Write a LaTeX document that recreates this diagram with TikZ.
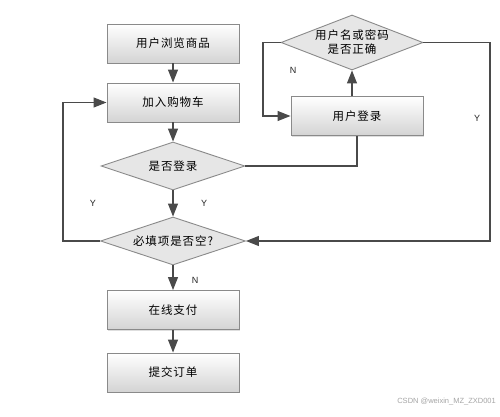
\documentclass[tikz,border=0pt]{standalone}
\usepackage{fontspec}
\setmainfont{Liberation Sans}
\newfontfamily\cjk[LetterSpace=8]{Noto Sans CJK SC}
\usetikzlibrary{shapes.geometric,arrows.meta,shadows}
\definecolor{linec}{HTML}{4A4A4A}
\definecolor{edgec}{HTML}{8A8A8A}
\definecolor{diafill}{HTML}{E6E6E6}
\tikzset{
  procbox/.style={draw=edgec, line width=0.9pt, top color=white, bottom color=black!17,
    minimum width=132pt, minimum height=39pt, inner sep=0pt,
    font=\cjk\fontsize{11.5}{14}\selectfont,
    drop shadow={shadow xshift=1.2pt, shadow yshift=-1.2pt, fill=black!25}},
  decision/.style={diamond, draw=edgec, line width=0.9pt, fill=diafill, inner sep=0pt, aspect=3},
  dtext/.style={font=\cjk\fontsize{11.5}{14}\selectfont, align=center, inner sep=0pt},
  conn/.style={draw=linec, line width=1.2pt},
  arr/.style={conn, -{Triangle[length=13pt,width=10pt]}},
  yn/.style={font=\fontsize{9}{10}\selectfont, text=black!85, inner sep=0pt},
}
\begin{document}
\begin{tikzpicture}[x=1pt,y=-1pt]
\useasboundingbox (0,0) rectangle (500,417);
\fill[white] (0,0) rectangle (500,417);
% boxes
\node[procbox] (b1) at (173,43.5) {用户浏览商品};
\node[procbox] (b2) at (173,102.5) {加入购物车};
\node[procbox] (b3) at (173,310) {在线支付};
\node[procbox] (b4) at (173,372.5) {提交订单};
\node[procbox] (login) at (357,116) {用户登录};
% decisions
\node[decision, minimum width=144pt, minimum height=48pt] (d1) at (173,166) {};
\node[dtext] (t1) at (d1) {是否登录};
\node[decision, minimum width=145pt, minimum height=48pt] (d2) at (173,241) {};
\node[dtext] (t2) at (d2) {必填项是否空?};
\node[decision, minimum width=142pt, minimum height=55pt] (d3) at (352,42.5) {};
\node[dtext] (t3) at (d3) {用户名或密码\\是否正确};
% helper coordinates
\coordinate (cL) at (63,0);
\coordinate (cN) at (263,0);
\coordinate (cR) at (490,0);
% connectors
\draw[arr] (b1) -- (b2);
\draw[arr] (b2) -- (d1);
\draw[conn] (d1.east) -| (login.south);
\draw[arr] (d3.south |- login.north) -- (d3.south);
\draw[arr] (d3.west) -| (cN |- login.west) -- (login.west);
\draw[arr] (d3.east) -| (cR |- d2.east) -- (d2.east);
\draw[arr] (d1) -- (d2);
\draw[arr] (d2.west) -| (cL |- b2.west) -- (b2.west);
\draw[arr] (d2) -- (b3);
\draw[arr] (b3) -- (b4);
% labels
\node[yn] (l1) at (93,203) {Y};
\node[yn] (l2) at (204,203) {Y};
\node[yn] (l3) at (293,70) {N};
\node[yn] (l4) at (477,118) {Y};
\node[yn] (l5) at (195,280) {N};
\node[font=\fontsize{7.5}{9}\selectfont, text=black!35, anchor=east, inner sep=0pt] (wm) at (496,402) {CSDN @weixin\_MZ\_ZXD001};
\end{tikzpicture}
\end{document}
